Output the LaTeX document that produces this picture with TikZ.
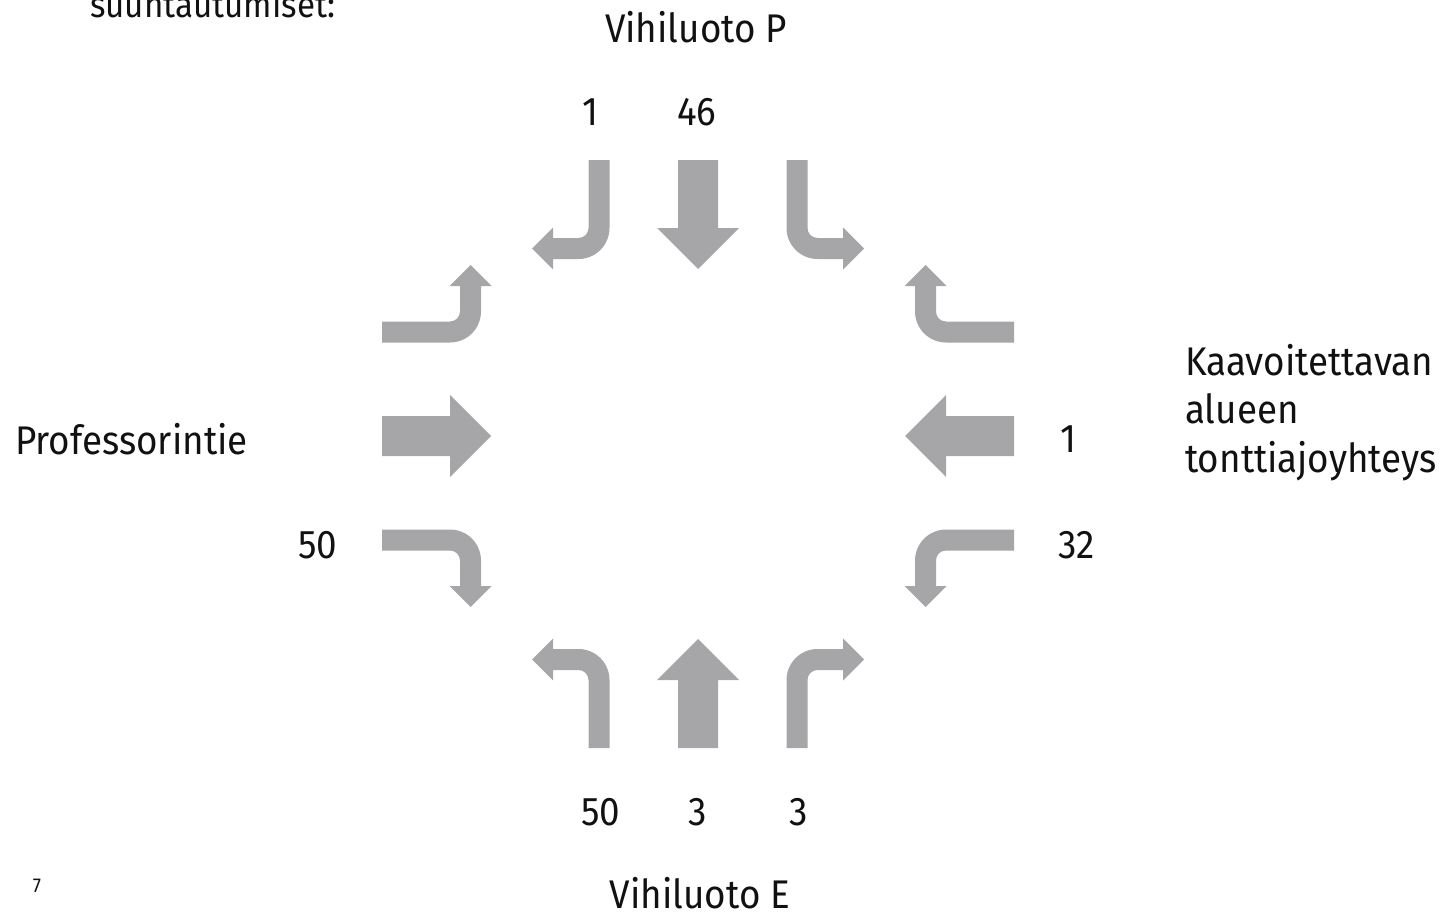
\documentclass[tikz,border=0pt]{standalone}
\usepackage{fontspec}
\setmainfont[FakeStretch=0.92]{Fira Sans}
\usetikzlibrary{positioning}
\definecolor{arrowgray}{HTML}{A6A6A8}
\definecolor{ink}{HTML}{111111}
\newcommand{\Cx}{698}
\newcommand{\Cy}{436}
\newcommand{\Gv}{99}
\newcommand{\Gh}{104}
\tikzset{
  goahead/.style={insert path={(-20,0) -- (20,0) -- (20,-68) -- (41,-68) -- (0,-109) -- (-41,-68) -- (-20,-68) -- cycle}},
  turnleft/.style={insert path={(-10.5,0) -- (10.5,0) -- (10.5,-68)
      .. controls (10.5,-85.1) and (-3.4,-99) .. (-20.5,-99) -- (-46,-99) -- (-46,-109.5)
      -- (-67,-88.5) -- (-46,-67.5) -- (-46,-78) -- (-20.5,-78)
      .. controls (-15,-78) and (-10.5,-73.5) .. (-10.5,-68) -- cycle}},
  label/.style={font=\fontsize{40}{48}\selectfont},
  count/.style={font=\fontsize{40}{48}\selectfont, anchor=base}
}

\begin{document}
\begin{tikzpicture}[x=1pt,y=-1pt, every node/.style={text=ink, inner sep=0pt}]
\useasboundingbox (0,0) rectangle (1453,915);
% ---- ARROWS: one set of three per approach, turned round the junction
\foreach \ang/\ox/\oy/\gap in {0/\Cx/748/\Gv, 180/\Cx/160/\Gv, -90/382/\Cy/\Gh, 90/1014/\Cy/\Gh} {
  \begin{scope}[shift={(\ox,\oy)}, rotate=\ang]
    \fill[arrowgray, goahead];
    \fill[arrowgray, shift={(-\gap,0)}, turnleft];
    \fill[arrowgray, shift={(\gap,0)}, xscale=-1, turnleft];
  \end{scope}
}
% ---- ROAD NAMES
\node[font=\fontsize{36}{42}\selectfont, anchor=base west] (head) at (90,18) {suuntautumiset:};
\node[label, anchor=base] (north) at (696,43) {Vihiluoto P};
\node[label, anchor=base] (south) at (700,908) {Vihiluoto E};
\node[label, anchor=base west] (west) at (15,454) {Professorintie};
\node[label, anchor=base west] (eastA) at (1185,375) {Kaavoitettavan};
\node[label, anchor=base west] (eastB) at (1185,423.5) {alueen};
\node[label, anchor=base west] (eastC) at (1185,472) {tonttiajoyhteys};
% ---- COUNTS
\node[count] (nl) at (590,125) {1};
\node[count] (ns) at (697,125) {46};
\node[count] (ws) at (318,558) {50};
\node[count] (es) at (1068,452) {1};
\node[count] (el) at (1077,558) {32};
\node[count] (sl) at (601,825) {50};
\node[count] (ss) at (697.5,825) {3};
\node[count] (sr) at (799,825) {3};
% ---- PAGE NUMBER
\node[font=\fontsize{20}{24}\selectfont, anchor=base] (page) at (37,892) {7};
\end{tikzpicture}
\end{document}
